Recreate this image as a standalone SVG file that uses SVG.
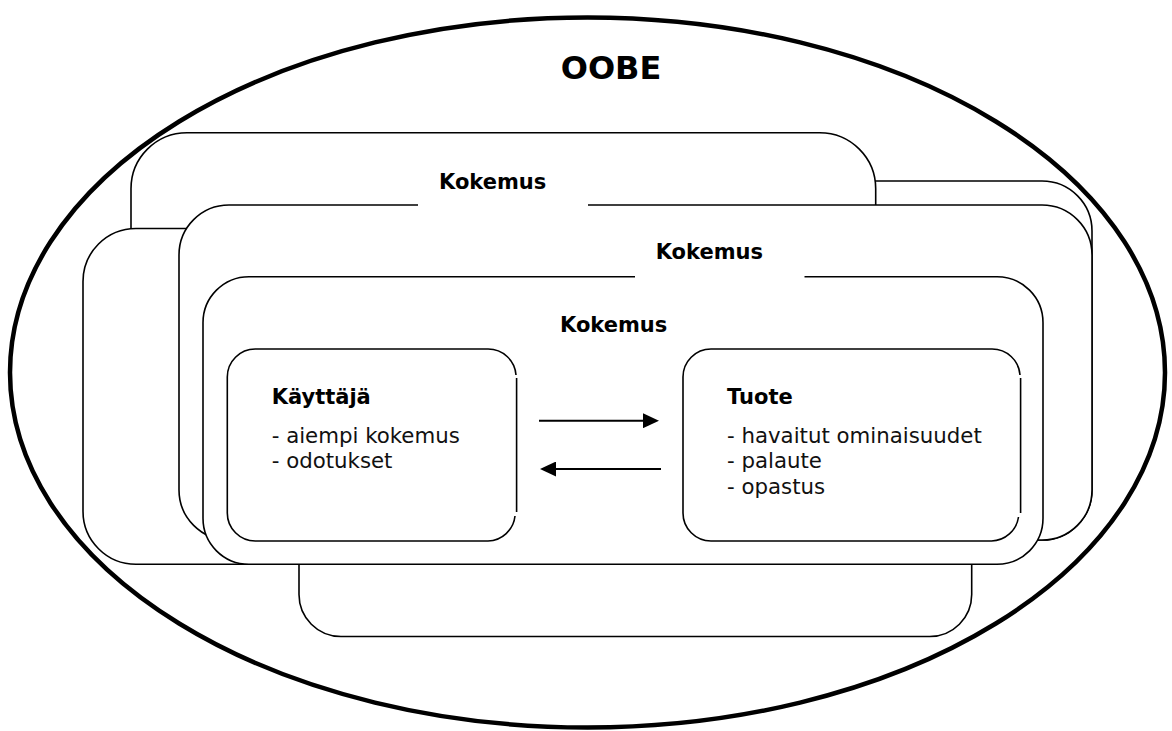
<svg xmlns="http://www.w3.org/2000/svg" width="1172" height="731" viewBox="0 0 1172 731">
  <defs>
    <style>
      .box { fill: #ffffff; stroke: #000000; stroke-width: 1.6; }
      .edge { fill: none; stroke: #000000; stroke-width: 1.6; }
      .lbl { font-family: "DejaVu Sans", Verdana, sans-serif; font-weight: bold; font-size: 21px; fill: #000000; }
      .item { font-family: "DejaVu Sans", Verdana, sans-serif; font-size: 21.3px; fill: #111111; }
      .gap { fill: #ffffff; stroke: none; }
      .conn { fill: none; stroke: #000000; stroke-width: 2; }
    </style>
    <marker id="arrow" markerUnits="userSpaceOnUse" markerWidth="16" markerHeight="15" refX="3" refY="7.5" orient="auto">
      <path d="M0,0 L16,7.5 L0,15 Z" fill="#000000"/>
    </marker>
  </defs>
  <rect x="0" y="0" width="1172" height="731" fill="#ffffff"/>

  <g id="oobe">
    <ellipse cx="587.5" cy="372.5" rx="577.5" ry="355" fill="none" stroke="#000000" stroke-width="4.5"/>
    <text x="611" y="79.3" text-anchor="middle" font-family="DejaVu Sans, Verdana, sans-serif" font-weight="bold" font-size="32" fill="#000000">OOBE</text>
  </g>

  <g id="layer-e">
    <rect class="box" x="600" y="181" width="492" height="359" rx="50" ry="50"/>
  </g>
  <g id="layer-a">
    <rect class="box" x="131" y="132.7" width="744.7" height="260" rx="56" ry="56"/>
  </g>
  <g id="layer-b">
    <rect class="box" x="83" y="228.5" width="517" height="335.8" rx="53" ry="53"/>
  </g>
  <g id="layer-c">
    <rect class="box" x="179" y="205" width="913" height="335" rx="50" ry="50"/>
  </g>
  <g id="layer-f">
    <rect class="box" x="299" y="400" width="672.7" height="236.5" rx="42" ry="42"/>
  </g>
  <g id="layer-d">
    <rect class="box" x="203" y="276.7" width="840" height="287.6" rx="46" ry="46"/>
  </g>

  <g id="label-kokemus-1">
    <rect class="gap" x="418" y="165" width="170" height="47"/>
    <text class="lbl" x="439" y="188.5">Kokemus</text>
  </g>
  <g id="label-kokemus-2">
    <rect class="gap" x="635" y="236" width="169.5" height="46"/>
    <text class="lbl" x="655.7" y="259.3">Kokemus</text>
  </g>
  <g id="label-kokemus-3">
    <text class="lbl" x="560" y="331.7">Kokemus</text>
  </g>

  <g id="kayttaja">
    <path class="box" d="M 516 375 A 28 28 0 0 0 488 349 H 255.3 A 28 28 0 0 0 227.3 377 V 513 A 28 28 0 0 0 255.3 541 H 488 A 28 28 0 0 0 515 516"/>
    <path class="edge" d="M 516.6 378 V 512"/>
    <text class="lbl" x="271.7" y="404">Käyttäjä</text>
    <text class="item" x="271.7" y="442.7">- aiempi kokemus</text>
    <text class="item" x="271.7" y="468.3">- odotukset</text>
  </g>

  <g id="tuote">
    <path class="box" d="M 1020 375 A 28 28 0 0 0 992 349 H 711 A 28 28 0 0 0 683 377 V 513 A 28 28 0 0 0 711 541 H 991.5 A 28 28 0 0 0 1018.5 517"/>
    <path class="edge" d="M 1020.6 378 V 513"/>
    <text class="lbl" x="727" y="404">Tuote</text>
    <text class="item" x="727" y="442.7">- havaitut ominaisuudet</text>
    <text class="item" x="727" y="468.3">- palaute</text>
    <text class="item" x="727" y="494">- opastus</text>
  </g>

  <g id="connectors">
    <path class="conn" d="M 539 420.7 H 646" marker-end="url(#arrow)"/>
    <path class="conn" d="M 661 469 H 553" marker-end="url(#arrow)"/>
  </g>
</svg>
